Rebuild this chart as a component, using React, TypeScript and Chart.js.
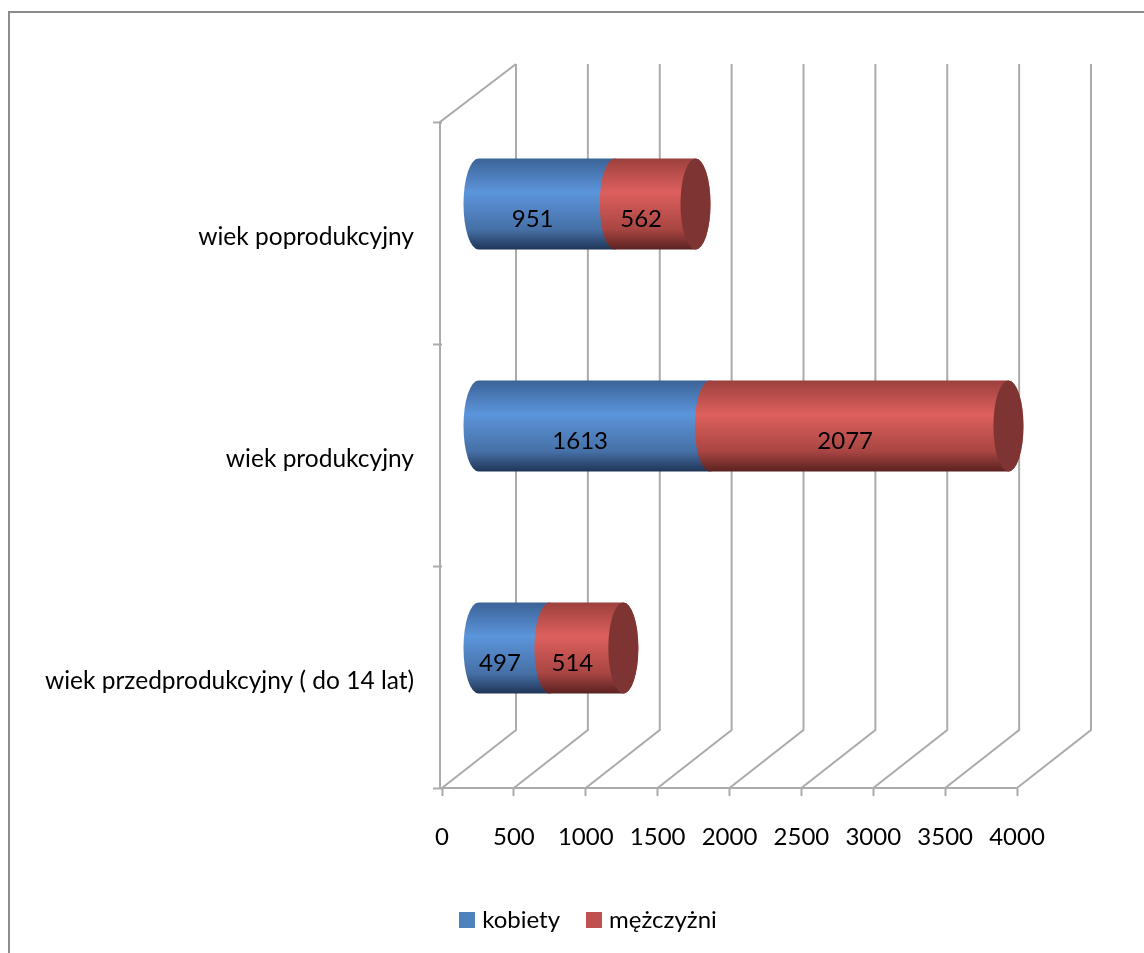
import React, { useEffect, useRef } from "react";
import { Chart, registerables } from "chart.js";

Chart.register(...registerables);

const categories = ["wiek poprodukcyjny", "wiek produkcyjny", "wiek przedprodukcyjny ( do 14 lat)"];
const kobiety = [951, 1613, 497];
const mezczyzni = [562, 2077, 514];
const seriesNames = ["kobiety", "mężczyżni"];
const seriesColors = ["#4f81bd", "#c0504d"];
const capColor = "#7d3432";
const blueStops = ["#3b6397", "#5c95db", "#4670a6", "#1f3557"];
const redStops = ["#9c403d", "#dd605d", "#a84542", "#5a2220"];
const gridColor = "#ababab";
const FONT = "Lato";
const FS = 24;
const DX = 74;
const DY = -58;
const BAR_DX = 36;
const BAR_DY = -29;
const RX = 15;

function swatch(color: string) {
  const c = document.createElement("canvas");
  c.width = 16;
  c.height = 16;
  const g = c.getContext("2d")!;
  g.fillStyle = color;
  g.fillRect(0, 0, 16, 16);
  return c;
}

const scene3d = {
  id: "scene3d",
  afterLayout(chart: any) {
    // let the long category label use the free space left of the axis box
    chart.scales.y.left = 30;
  },
  beforeDraw(chart: any) {
    const ctx = chart.ctx;
    ctx.save();
    ctx.fillStyle = "#fff";
    ctx.fillRect(0, 0, chart.width, chart.height);
    ctx.strokeStyle = "#8c8c8c";
    ctx.lineWidth = 2;
    ctx.beginPath();
    ctx.moveTo(9, chart.height);
    ctx.lineTo(9, 12);
    ctx.lineTo(chart.width, 12);
    ctx.stroke();
    ctx.restore();
  },
  beforeDatasetsDraw(chart: any) {
    const ctx = chart.ctx;
    const { left, top, bottom } = chart.chartArea;
    const xs = chart.scales.x;
    ctx.save();
    ctx.strokeStyle = gridColor;
    ctx.lineWidth = 2;
    // side wall
    ctx.beginPath();
    ctx.moveTo(left - 2, bottom);
    ctx.lineTo(left - 2, top);
    ctx.lineTo(left + DX, top + DY);
    ctx.stroke();
    // floor diagonals + back grid
    xs.ticks.forEach((t: any) => {
      const px = xs.getPixelForValue(t.value);
      ctx.beginPath();
      ctx.moveTo(px, bottom);
      ctx.lineTo(px + DX, bottom + DY);
      ctx.lineTo(px + DX, top + DY);
      ctx.stroke();
    });

    // cylinders
    const n = chart.data.datasets.length;
    chart.data.datasets.forEach((ds: any, di: number) => {
      const meta = chart.getDatasetMeta(di);
      const stops = di === 0 ? blueStops : redStops;
      meta.data.forEach((el: any) => {
        const x0 = el.base + BAR_DX;
        const x1 = el.x + BAR_DX;
        const cy = el.y + BAR_DY;
        const ry = el.height / 2;
        const g = ctx.createLinearGradient(0, cy - ry, 0, cy + ry);
        g.addColorStop(0, stops[0]);
        g.addColorStop(0.37, stops[1]);
        g.addColorStop(0.78, stops[2]);
        g.addColorStop(1, stops[3]);
        ctx.fillStyle = g;
        ctx.beginPath();
        ctx.ellipse(x0, cy, RX, ry, 0, Math.PI / 2, (3 * Math.PI) / 2, false);
        ctx.lineTo(x1, cy - ry);
        ctx.ellipse(x1, cy, RX, ry, 0, -Math.PI / 2, Math.PI / 2, false);
        ctx.closePath();
        ctx.fill();
        if (di === n - 1) {
          ctx.fillStyle = capColor;
          ctx.beginPath();
          ctx.ellipse(x1, cy, RX, ry, 0, 0, Math.PI * 2);
          ctx.fill();
        }
      });
    });

    // value labels
    ctx.fillStyle = "#000";
    ctx.font = `${FS}px ${FONT}`;
    ctx.textAlign = "center";
    ctx.textBaseline = "middle";
    chart.data.datasets.forEach((ds: any, di: number) => {
      chart.getDatasetMeta(di).data.forEach((el: any, i: number) => {
        ctx.fillText(String(ds.data[i]), (el.base + el.x) / 2 + 22, el.y - 14);
      });
    });
    ctx.restore();
    return false;
  },
};

export default function App() {
  const ref = useRef<HTMLCanvasElement | null>(null);
  useEffect(() => {
    const swatches = seriesColors.map(swatch);
    const chart = new Chart(ref.current!, {
      type: "bar",
      data: {
        labels: categories,
        datasets: [
          { label: seriesNames[0], data: kobiety, backgroundColor: seriesColors[0], stack: "a" },
          { label: seriesNames[1], data: mezczyzni, backgroundColor: seriesColors[1], stack: "a" },
        ],
      },
      plugins: [scene3d],
      options: {
        indexAxis: "y",
        responsive: false,
        animation: false,
        events: [],
        layout: { padding: { left: 163, right: 127, top: 122, bottom: 11 } },
        datasets: { bar: { barPercentage: 0.41, categoryPercentage: 1 } },
        font: { family: FONT, size: FS },
        scales: {
          x: {
            stacked: true,
            min: 0,
            max: 4000,
            afterFit: (s: any) => { s.height = 90; },
            ticks: {
              stepSize: 500,
              color: "#000",
              padding: 27,
              font: { family: FONT, size: FS },
              format: { useGrouping: false },
              maxRotation: 0,
              autoSkip: false,
            },
            grid: { drawOnChartArea: false, tickLength: 8, tickColor: gridColor, tickWidth: 2 },
            border: { color: gridColor, width: 2 },
          },
          y: {
            stacked: true,
            afterFit: (s: any) => { s.width = 279; },
            ticks: { color: "#000", padding: 19, labelOffset: 4, font: { family: FONT, size: 24.5 }, autoSkip: false },
            grid: { drawOnChartArea: false, tickLength: 9, tickColor: gridColor, tickWidth: 2 },
            border: { display: false },
          },
        },
        plugins: {
          title: { display: false },
          tooltip: { enabled: false },
          legend: {
            position: "bottom",
            labels: {
              usePointStyle: true,
              pointStyleWidth: 7,
              boxHeight: 16,
              padding: 30,
              color: "#000",
              font: { family: FONT, size: FS },
              generateLabels: (c: any) =>
                Chart.defaults.plugins.legend.labels.generateLabels(c).map((l: any, i: number) => ({
                  ...l,
                  pointStyle: swatches[i],
                })),
            },
          },
        },
      } as any,
    });
    return () => chart.destroy();
  }, []);
  return (
    <div style={{ position: "absolute", left: 0, top: 0, width: 1144, height: 953, overflow: "hidden" }}>
      <canvas ref={ref} width={1144} height={953} style={{ display: "block" }} />
    </div>
  );
}
